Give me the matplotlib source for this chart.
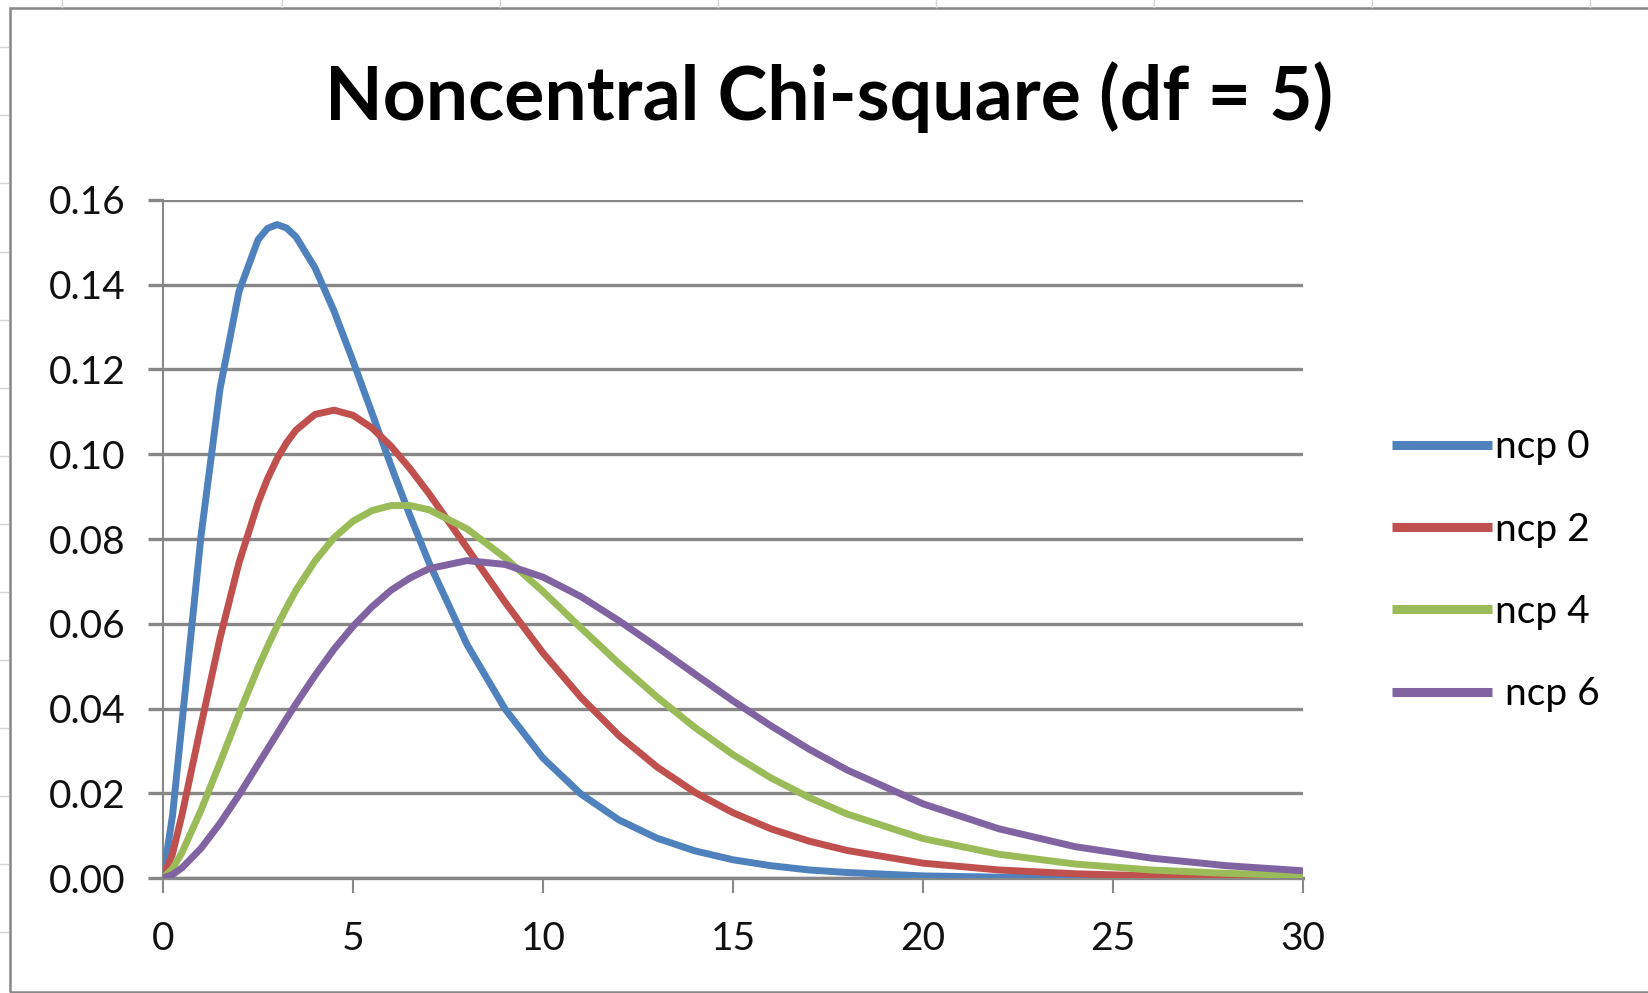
# Noncentral chi-square density curves, df = 5, Excel-style chart
import numpy as np
import matplotlib.pyplot as plt
from matplotlib.lines import Line2D

# values
x = [0, 0.25, 0.5, 1, 1.5, 2, 2.5, 2.75, 3, 3.25, 3.5, 4, 4.5, 5, 5.5, 6, 6.5, 7,
     8, 9, 10, 11, 12, 13, 14, 15, 16, 17, 18, 20, 22, 24, 26, 28, 30]
ncp0 = [0, 0.0147, 0.0366, 0.0807, 0.1154, 0.1384, 0.1506, 0.1533, 0.1542, 0.1534,
        0.1513, 0.1440, 0.1338, 0.1220, 0.1097, 0.0973, 0.0855, 0.0744, 0.0551,
        0.0399, 0.0283, 0.0198, 0.0137, 0.0094, 0.0064, 0.0043, 0.0029, 0.0019,
        0.0013, 0.0005, 0.0002, 0.0001, 0.00004, 0.00002, 0.00001]
ncp2 = [0, 0.0057, 0.0149, 0.0360, 0.0566, 0.0744, 0.0885, 0.0942, 0.0989, 0.1027,
        0.1057, 0.1094, 0.1104, 0.1092, 0.1062, 0.1019, 0.0966, 0.0907, 0.0779,
        0.0651, 0.0531, 0.0426, 0.0336, 0.0262, 0.0202, 0.0154, 0.0116, 0.0087,
        0.0065, 0.0035, 0.0019, 0.0010, 0.0005, 0.00025, 0.00012]
ncp4 = [0, 0.0022, 0.0060, 0.0160, 0.0272, 0.0387, 0.0496, 0.0546, 0.0594, 0.0638,
        0.0679, 0.0748, 0.0803, 0.0842, 0.0867, 0.0879, 0.0879, 0.0869, 0.0824,
        0.0756, 0.0676, 0.0590, 0.0506, 0.0427, 0.0355, 0.0291, 0.0236, 0.0190,
        0.0151, 0.0093, 0.0056, 0.0033, 0.0019, 0.0011, 0.0006]
ncp6 = [0, 0.0008, 0.0024, 0.0070, 0.0129, 0.0196, 0.0268, 0.0304, 0.0340, 0.0376,
        0.0411, 0.0478, 0.0540, 0.0594, 0.0640, 0.0679, 0.0708, 0.0730, 0.0749,
        0.0740, 0.0710, 0.0664, 0.0607, 0.0545, 0.0481, 0.0418, 0.0359, 0.0304,
        0.0255, 0.0175, 0.0116, 0.0074, 0.0047, 0.0029, 0.0017]
series = [ncp0, ncp2, ncp4, ncp6]
labels = ['ncp 0', 'ncp 2', 'ncp 4', ' ncp 6']
colors = ['#4F81BD', '#C0504D', '#9BBB59', '#8064A2']
xticks = [0, 5, 10, 15, 20, 25, 30]
yticks = [0.00, 0.02, 0.04, 0.06, 0.08, 0.10, 0.12, 0.14, 0.16]

plt.rcParams['font.family'] = ['Lato', 'DejaVu Sans']
grid_c = '#878787'

fig = plt.figure(figsize=(16.48, 9.93), dpi=100)
ax = fig.add_axes([0.0989, 0.1158, 0.6918, 0.6828])

# chart area border + spreadsheet cell lines behind it
fig.add_artist(plt.Rectangle((10 / 1648, 1 - 992 / 993), 1.1, 984 / 993,
                             transform=fig.transFigure, fill=False,
                             edgecolor=grid_c, lw=1.8, zorder=0))
for gx in [62, 282, 500, 718, 936, 1154, 1372, 1590]:
    fig.add_artist(Line2D([gx / 1648] * 2, [1, 1 - 7 / 993], transform=fig.transFigure,
                          color='#d4d4d4', lw=1))
for gy in [47, 115, 183, 252, 320, 388, 456, 524, 592, 660, 728, 796, 864, 932]:
    fig.add_artist(Line2D([0, 8 / 1648], [1 - gy / 993] * 2, transform=fig.transFigure,
                          color='#d4d4d4', lw=1))

for s, lab, c in zip(series, labels, colors):
    ax.plot(x, s, color=c, lw=5, label=lab, solid_capstyle='butt',
            solid_joinstyle='round', zorder=3)

ax.set_xlim(0, 30)
ax.set_ylim(0, 0.16)
ax.set_xticks(xticks)
ax.set_yticks(yticks)
ax.set_yticklabels(['%.2f' % v for v in yticks])
ax.yaxis.grid(True, color=grid_c, lw=2.4)
ax.set_axisbelow(True)
for sp in ['top', 'right', 'bottom']:
    ax.spines[sp].set_visible(False)
ax.spines['left'].set_color(grid_c)
ax.spines['left'].set_linewidth(1.5)
ax.axhline(0, color=grid_c, lw=2.4, zorder=1, clip_on=False)
ax.tick_params(axis='y', length=11, width=2.4, color=grid_c, labelsize=28,
               pad=16, labelcolor='#111111')
ax.tick_params(axis='x', length=11, width=1.5, color=grid_c, labelsize=28,
               pad=20, labelcolor='#111111')

fig.text(0.503, 0.902, 'Noncentral Chi-square (df = 5)', ha='center', va='center',
         fontsize=54, fontweight='bold', color='#000000')

leg = ax.legend(loc='center left', bbox_to_anchor=(1.064, 0.453), frameon=False,
                borderaxespad=0, fontsize=28, handlelength=2.57,
                handletextpad=0.1, labelspacing=1.19)
for h in leg.get_lines():
    h.set_linewidth(6.5)

fig.savefig('out.png', dpi=100)
